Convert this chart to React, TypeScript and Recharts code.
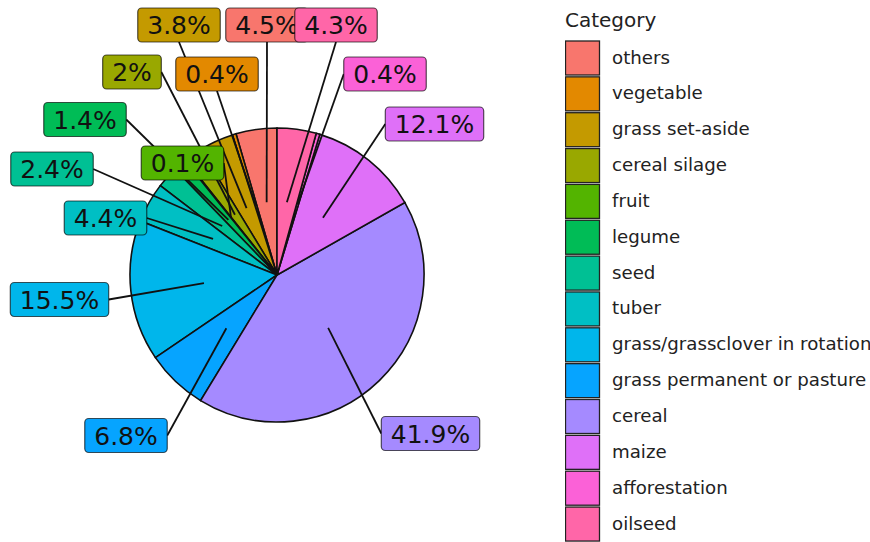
import { PieChart, Pie, Cell, Legend } from "recharts";

// legend order (ggplot factor levels)
const categories = [
  "others",
  "vegetable",
  "grass set-aside",
  "cereal silage",
  "fruit",
  "legume",
  "seed",
  "tuber",
  "grass/grassclover in rotation",
  "grass permanent or pasture",
  "cereal",
  "maize",
  "afforestation",
  "oilseed",
];
const shares = [4.5, 0.4, 3.8, 2, 0.1, 1.4, 2.4, 4.4, 15.5, 6.8, 41.9, 12.1, 0.4, 4.3];
const shareLabels = ["4.5%", "0.4%", "3.8%", "2%", "0.1%", "1.4%", "2.4%", "4.4%", "15.5%", "6.8%", "41.9%", "12.1%", "0.4%", "4.3%"];
const colors = [
  "#F8766D", "#E38900", "#C49A00", "#99A800", "#53B400", "#00BC56", "#00C094",
  "#00BFC4", "#00B6EB", "#06A4FF", "#A58AFF", "#DF70F8", "#FB61D7", "#FF66A8",
];

const data = categories.map((c, i) => ({ name: c, value: shares[i] }));

// repelled label box centres, relative to the pie centre (layout only)
const labelOffsets: [number, number][] = [
  [-10, -250], [-60, -201], [-98, -250], [-145, -203], [-94.5, -112],
  [-192, -155.5], [-225, -106], [-171.5, -57], [-217.5, 24.5], [-151, 160.5],
  [153.5, 158.5], [157.5, -151], [108, -201], [59, -250],
];

const FONT = "DejaVu Sans";
const LABEL_SIZE = 25;
const BOX_H = 34;
const RAD = Math.PI / 180;

const charW = (ch: string) => (ch === "." ? 0.318 : ch === "%" ? 0.95 : 0.636);
const textWidth = (s: string) => s.split("").reduce((a, ch) => a + charW(ch), 0) * LABEL_SIZE;

function boxOf(index: number, cx: number, cy: number) {
  const w = textWidth(shareLabels[index]) + 19;
  const [dx, dy] = labelOffsets[index];
  return { x: cx + dx, y: cy + dy, w, h: BOX_H };
}

const renderSegment = (p: any) => {
  const r = p.outerRadius * 0.5;
  const sx = p.cx + r * Math.cos(-p.midAngle * RAD);
  const sy = p.cy + r * Math.sin(-p.midAngle * RAD);
  const b = boxOf(p.index, p.cx, p.cy);
  const anchors = [
    [b.x - b.w / 2, b.y],
    [b.x + b.w / 2, b.y],
    [b.x, b.y - b.h / 2],
    [b.x, b.y + b.h / 2],
  ];
  let best = anchors[0];
  let bestD = Infinity;
  anchors.forEach((a) => {
    const d = Math.hypot(a[0] - sx, a[1] - sy);
    if (d < bestD) {
      bestD = d;
      best = a;
    }
  });
  return (
    <line
      key={`seg-${p.index}`}
      x1={sx}
      y1={sy}
      x2={best[0]}
      y2={best[1]}
      stroke="#111"
      strokeWidth={1.8}
    />
  );
};

const renderBox = (p: any) => {
  const b = boxOf(p.index, p.cx, p.cy);
  return (
    <g key={`box-${p.index}`}>
      <rect
        x={b.x - b.w / 2}
        y={b.y - b.h / 2}
        width={b.w}
        height={b.h}
        rx={4}
        fill={colors[p.index]}
        stroke="#000"
        strokeOpacity={0.65}
        strokeWidth={1.2}
      />
      <text
        x={b.x}
        y={b.y + 9}
        textAnchor="middle"
        fontFamily={FONT}
        fontSize={LABEL_SIZE}
        fill="#111"
      >
        {shareLabels[p.index]}
      </text>
    </g>
  );
};

const renderLegend = () => (
  <svg width={305} height={542} style={{ display: "block" }}>
    <text x={0} y={27} fontFamily={FONT} fontSize={20} fill="#222">
      Category
    </text>
    {categories.map((c, i) => {
      const y = 41 + i * 35.85;
      return (
        <g key={c}>
          <rect x={0.5} y={y} width={34} height={34} fill={colors[i]} stroke="#222" strokeWidth={1.3} />
          <text x={47} y={y + 22.5} fontFamily={FONT} fontSize={18.2} fill="#222">
            {c}
          </text>
        </g>
      );
    })}
  </svg>
);

export default function App() {
  return (
    <div style={{ position: "absolute", left: 0, top: 0, background: "#fff" }}>
      <PieChart width={870} height={542} margin={{ top: 0, right: 0, bottom: 0, left: 0 }}>
        <Pie
          data={data}
          dataKey="value"
          nameKey="name"
          cx={277}
          cy={275}
          outerRadius={147}
          startAngle={90}
          endAngle={450}
          stroke="#111"
          strokeWidth={1.6}
          label={renderSegment}
          labelLine={false}
          isAnimationActive={false}
        >
          {data.map((d, i) => (
            <Cell key={d.name} fill={colors[i]} />
          ))}
        </Pie>
        <Pie
          data={data}
          dataKey="value"
          nameKey="name"
          cx={277}
          cy={275}
          outerRadius={147}
          startAngle={90}
          endAngle={450}
          fill="none"
          stroke="none"
          label={renderBox}
          labelLine={false}
          isAnimationActive={false}
          legendType="none"
        />
        <Legend
          layout="vertical"
          align="right"
          verticalAlign="top"
          content={renderLegend}
          wrapperStyle={{ left: 565, top: 0, width: 305 }}
        />
      </PieChart>
    </div>
  );
}
